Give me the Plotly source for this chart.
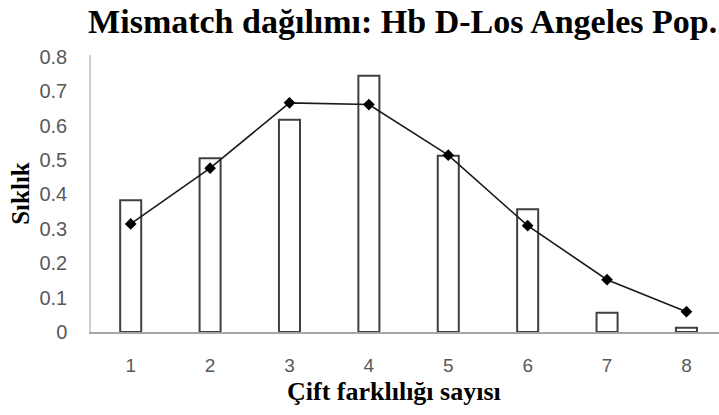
import plotly.graph_objects as go

categories = [1, 2, 3, 4, 5, 6, 7, 8]
observed = [0.383, 0.505, 0.617, 0.745, 0.512, 0.357, 0.056, 0.012]
expected = [0.314, 0.476, 0.666, 0.661, 0.514, 0.309, 0.152, 0.059]
y_ticks = [0, 0.1, 0.2, 0.3, 0.4, 0.5, 0.6, 0.7, 0.8]
y_tick_text = ["0", "0.1", "0.2", "0.3", "0.4", "0.5", "0.6", "0.7", "0.8"]

serif = "Liberation Serif, Times New Roman, serif"
sans = "Liberation Sans, Arial, sans-serif"

fig = go.Figure()
fig.add_trace(go.Bar(
    x=categories, y=observed, width=0.265,
    marker=dict(color="white", line=dict(color="#404040", width=2)),
    showlegend=False,
))
fig.add_trace(go.Scatter(
    x=categories, y=expected, mode="lines+markers",
    line=dict(color="#1a1a1a", width=1.6),
    marker=dict(symbol="diamond", size=9, color="black"),
    showlegend=False,
))

fig.update_layout(
    width=719, height=415,
    margin=dict(l=91, r=0, t=55, b=83, autoexpand=False),
    paper_bgcolor="white", plot_bgcolor="white",
    title=dict(
        text="Mismatch dağılımı: Hb D-Los Angeles Pop.",
        font=dict(family=serif, size=34, color="black", weight="bold"),
        x=0.56, xanchor="center", yref="container", y=0.978, yanchor="top",
        automargin=False,
    ),
    xaxis=dict(
        range=[0.5, 8.41], tickmode="array", tickvals=categories,
        ticktext=[str(c) for c in categories],
        showgrid=False, zeroline=False, showline=True,
        linecolor="#a6a6a6", linewidth=1.5, ticks="",
        ticklabelstandoff=15, automargin=False,
        tickfont=dict(family=sans, size=19, color="#595959"),
    ),
    yaxis=dict(
        range=[0, 0.805], tickmode="array", tickvals=y_ticks, ticktext=y_tick_text,
        showgrid=False, zeroline=False, showline=True,
        linecolor="#d0d0d0", linewidth=1.5, ticks="",
        ticklabelstandoff=18, automargin=False,
        tickfont=dict(family=sans, size=20, color="#595959"),
        title=dict(text="Sıklık", standoff=3,
                   font=dict(family=serif, size=25, color="black", weight="bold")),
    ),
    annotations=[dict(
        text="Çift farklılığı sayısı", xref="paper", yref="paper",
        x=0.4825, y=-0.213, xanchor="center", yanchor="middle", showarrow=False,
        font=dict(family=serif, size=26, color="black", weight="bold"),
    )],
)

fig.write_html("out.html", config={"displayModeBar": False},
               post_script="document.body.style.margin='0';")
